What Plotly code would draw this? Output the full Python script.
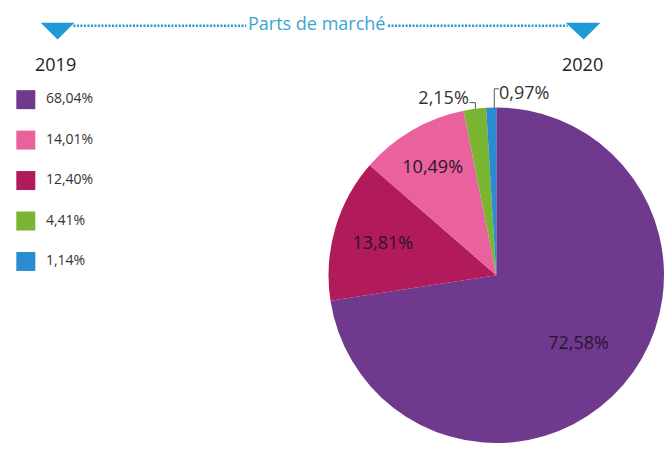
import plotly.graph_objects as go

W, H = 669, 449

# ---- data ----
segments = ["Segment A", "Segment B", "Segment C", "Segment D", "Segment E"]
share_2019 = [68.04, 14.01, 12.40, 4.41, 1.14]
# 2020 pie, listed clockwise from 12 o'clock
pie_order = ["Segment A", "Segment C", "Segment B", "Segment D", "Segment E"]
share_2020 = [72.58, 13.81, 10.49, 2.15, 0.97]
title_text = "Parts de marché"
year_left = "2019"
year_right = "2020"

colors = {
    "Segment A": "#6f3a8e",
    "Segment B": "#e9619d",
    "Segment C": "#b11a5b",
    "Segment D": "#79b531",
    "Segment E": "#2a8bd0",
}

def px(x):
    return x / W

def py(y):
    return 1 - y / H

FONT = "Open Sans"
NB = "\u00a0"

fig = go.Figure()

# 2020 pie
label_fmt = "%{value:.2f}%"
pie_templates = [NB * 8 + "<br>" + NB * 8 + label_fmt, label_fmt, label_fmt, label_fmt, label_fmt]
fig.add_trace(go.Pie(
    labels=pie_order,
    values=share_2020,
    marker=dict(colors=[colors[s] for s in pie_order], line=dict(width=0)),
    sort=False,
    direction="clockwise",
    rotation=0,
    texttemplate=pie_templates,
    textposition=["inside", "inside", "inside", "outside", "none"],
    insidetextorientation="horizontal",
    textfont=dict(family=FONT, size=18, color="#2a1530"),
    outsidetextfont=dict(family=FONT, size=18, color="#333333"),
    domain=dict(x=[px(331), px(669)], y=[py(449), py(109)]),
    showlegend=False,
    hoverinfo="label+value",
))

# 2019 legend-like list
fig.add_trace(go.Scatter(
    x=[0] * len(segments),
    y=list(range(len(segments))),
    mode="markers+text",
    marker=dict(symbol="square", size=19, color=[colors[s] for s in segments],
                line=dict(width=0)),
    customdata=share_2019,
    texttemplate=NB * 2 + "%{customdata:.2f}%",
    textposition="middle right",
    textfont=dict(family=FONT, size=14, color="#333333"),
    cliponaxis=False,
    showlegend=False,
    hoverinfo="skip",
))

fig.update_layout(
    width=W, height=H,
    margin=dict(l=0, r=0, t=0, b=0),
    paper_bgcolor="white",
    plot_bgcolor="rgba(0,0,0,0)",
    separators=", ",
    xaxis=dict(visible=False, domain=[0, px(300)], range=[-26, 274], fixedrange=True),
    yaxis=dict(visible=False, domain=[py(265), py(101)], range=[len(segments) - 1, 0], fixedrange=True),
    font=dict(family=FONT),
)

# title decorations
BLUE = "#1e9bd6"
fig.add_shape(type="line", xref="paper", yref="paper",
              x0=px(74), x1=px(248), y0=py(26), y1=py(26),
              line=dict(color=BLUE, width=2.5, dash="2px,1.5px"))
fig.add_shape(type="line", xref="paper", yref="paper",
              x0=px(391), x1=px(572), y0=py(26), y1=py(26),
              line=dict(color=BLUE, width=2.5, dash="2px,1.5px"))
for (a, b, t) in [(41, 75, 58), (570, 605, 588)]:
    fig.add_shape(type="path", xref="paper", yref="paper",
                  path=f"M {px(a)},{py(23)} L {px(b)},{py(23)} L {px(t)},{py(40)} Z",
                  fillcolor=BLUE, line=dict(width=0))

fig.add_annotation(text=title_text, xref="paper", yref="paper",
                   x=px(319), y=py(23), xanchor="center", yanchor="middle",
                   showarrow=False,
                   font=dict(family=FONT, size=18, color="#3ba4cf"))
fig.add_annotation(text=year_left, xref="paper", yref="paper",
                   x=px(56), y=py(65), xanchor="center", yanchor="middle",
                   showarrow=False,
                   font=dict(family=FONT, size=18, color="#222222"))
fig.add_annotation(text=year_right, xref="paper", yref="paper",
                   x=px(587), y=py(65), xanchor="center", yanchor="middle",
                   showarrow=False,
                   font=dict(family=FONT, size=18, color="#222222"))

# label for the thinnest 2020 slice, placed to the right of its leader line
small_label = f"{share_2020[-1]:.2f}".replace(".", ",") + "%"
fig.add_annotation(text=small_label, xref="paper", yref="paper",
                   x=px(501), y=py(93), xanchor="left", yanchor="middle",
                   showarrow=False,
                   font=dict(family=FONT, size=18, color="#333333"))
fig.add_shape(type="path", xref="paper", yref="paper",
              path=f"M {px(503)},{py(90)} L {px(498)},{py(90)} L {px(498)},{py(110)}",
              line=dict(color="#555555", width=1))
# short leader from the 2,15% label to its slice
fig.add_shape(type="path", xref="paper", yref="paper",
              path=f"M {px(473)},{py(104)} L {px(479)},{py(104)} L {px(479)},{py(110)}",
              line=dict(color="#555555", width=1))

fig.write_html("out.html", config={"displayModeBar": False},
               post_script="document.body.style.margin='0';")
